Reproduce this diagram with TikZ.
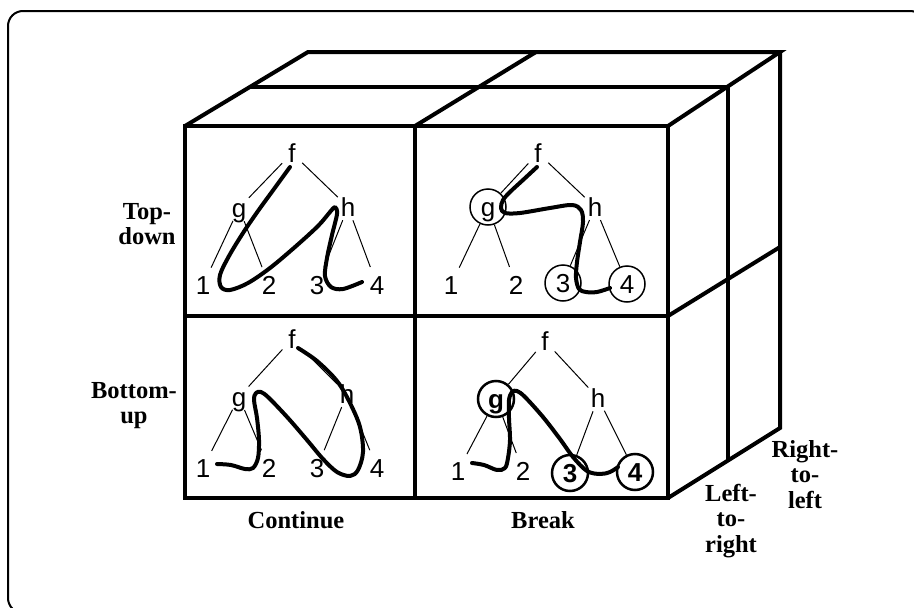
\documentclass[tikz,border=0pt]{standalone}
\usepackage{fontspec}
\setmainfont{Liberation Serif}
\newfontfamily\treefont{Liberation Sans}
\begin{document}
\begin{tikzpicture}[x=1pt,y=-1pt,
  cube/.style={line width=4pt, line join=miter},
  tedge/.style={line width=1pt},
  tn/.style={circle, inner sep=0pt, minimum size=28pt, font=\fontsize{26}{26}\treefont\selectfont, text height=18pt, text depth=0pt},
  leaf/.style={tn, minimum size=38pt},
  circ/.style={draw, line width=1.5pt, minimum size=36pt},
  bcirc/.style={draw, line width=2.5pt, minimum size=36pt, font=\fontsize{26}{26}\treefont\bfseries\selectfont},
  walk/.style={line width=4pt, line cap=round, line join=round},
  lab/.style={font=\fontsize{24.5}{25.5}\selectfont\bfseries, align=center, inner sep=0pt}
]
\useasboundingbox (0,0) rectangle (914,608);
% outer frame
\draw[line width=2pt, rounded corners=15pt] (8,11) rectangle (925,613);

% cube: front face
\draw[cube] (185,126) rectangle (668,498);
\draw[cube] (415,126) -- (415,498);
\draw[cube] (185,316) -- (668,316);
% top face
\draw[cube] (185,126) -- (308,52) -- (780,52) -- (668,126);
\draw[cube] (251,87) -- (728,87);
\draw[cube] (415,126) -- (536,52);
% right face
\draw[cube] (780,52) -- (780,428) -- (668,498);
\draw[cube] (728,87) -- (728,460);
\draw[cube] (668,316) -- (728,279) -- (780,247);

% ---------- panel: top-down / continue
\node[tn] (af) at (292,153) {f};
\node[tn] (ag) at (239,208) {g};
\node[tn] (ah) at (348,207) {h};
\node[leaf] (a1) at (203,285) {1};
\node[leaf] (a2) at (269,285) {2};
\node[leaf] (a3) at (317,285) {3};
\node[leaf] (a4) at (377,285) {4};
\draw[tedge] (af)--(ag) (af)--(ah) (ag)--(a1) (ag)--(a2) (ah)--(a3) (ah)--(a4);
\draw[walk] plot[smooth, tension=0.55] coordinates {(290,167) (274,189) (258,211) (243,233) (229,256) (220,275) (221,287) (230,290) (248,283) (270,268) (295,247) (318,226) (330,212) (335,207) (337,214) (332,235) (327,258) (325,276) (331,287) (343,289) (362,282)};

% ---------- panel: top-down / break
\node[tn] (bf) at (538,153) {f};
\node[tn,circ] (bg) at (488,207) {g};
\node[tn] (bh) at (595,207) {h};
\node[leaf] (b1) at (451,285) {1};
\node[leaf] (b2) at (516,285) {2};
\node[leaf,circ] (b3) at (563,283) {3};
\node[leaf,circ] (b4) at (627,284) {4};
\draw[tedge] (bf)--(bg) (bf)--(bh) (bg)--(b1) (bg)--(b2) (bh)--(b3) (bh)--(b4);
\draw[walk] plot[smooth, tension=0.55] coordinates {(537,167) (523,180) (510,192) (503,200) (501,208) (505,213) (520,213) (550,208) (572,205) (581,210) (583,222) (580,242) (577,262) (576,278) (579,289) (586,292) (597,292) (610,288)};

% ---------- panel: bottom-up / continue
\node[tn] (cf) at (292,339) {f};
\node[tn] (cg) at (239,397) {g};
\node[tn] (ch) at (347,394) {h};
\node[leaf] (c1) at (203,468) {1};
\node[leaf] (c2) at (269,468) {2};
\node[leaf] (c3) at (317,468) {3};
\node[leaf] (c4) at (377,468) {4};
\draw[tedge] (cf)--(cg) (cf)--(ch) (cg)--(c1) (cg)--(c2) (ch)--(c3) (ch)--(c4);
\draw[walk] plot[smooth, tension=0.55] coordinates {(217,464) (231,465) (245,469) (253,468) (258,458) (259,440) (257,418) (254,400) (256,393) (261,392) (269,398) (288,418) (307,440) (323,459) (337,472) (350,476) (358,470) (363,452) (360,427) (350,403) (337,381) (317,361) (298,348)};

% ---------- panel: bottom-up / break
\node[tn] (df) at (545,341) {f};
\node[tn,bcirc] (dg) at (496,399) {g};
\node[tn] (dh) at (598,398) {h};
\node[leaf] (d1) at (458,471) {1};
\node[leaf] (d2) at (523,471) {2};
\node[leaf,bcirc] (d3) at (570,473) {3};
\node[leaf,bcirc] (d4) at (635,472) {4};
\draw[tedge] (df)--(dg) (df)--(dh) (dg)--(d1) (dg)--(d2) (dh)--(d3) (dh)--(d4);
\draw[walk] plot[smooth, tension=0.55] coordinates {(472,463) (484,465) (497,470) (505,468) (508,458) (510,440) (509,418) (509,400) (512,392) (517,391) (525,397) (543,417) (560,439) (573,457) (587,471) (600,474) (610,472) (618,467)};

% ---------- labels
\node[lab, anchor=north] (ltd) at (147,203) {Top-\\down};
\node[lab, anchor=north] (lbu) at (134,382) {Bottom-\\up};
\node[lab, anchor=base] (lco) at (296,528) {Continue};
\node[lab, anchor=base] (lbr) at (543,528) {Break};
\node[lab, anchor=north] (llr) at (731,484) {Left-\\to-\\right};
\node[lab, anchor=north] (lrl) at (805,440) {Right-\\to-\\left};
\end{tikzpicture}
\end{document}
